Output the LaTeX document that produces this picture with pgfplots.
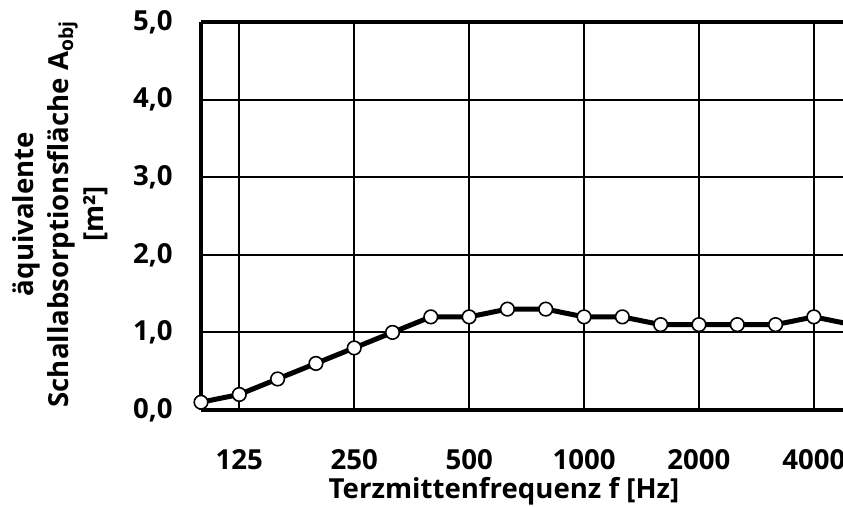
\documentclass[border=0pt]{standalone}
\usepackage{fontspec}
\setmainfont{Open Sans}
\usepackage{pgfplots}
\pgfplotsset{compat=1.18}
\begin{document}
\begin{tikzpicture}[x=0.5pt,y=0.5pt]
\useasboundingbox (-201,-97) rectangle (642,410);
\begin{axis}[
  at={(0,0)}, anchor=south west,
  scale only axis, width=321pt, height=194pt,
  xmin=0, xmax=16.76, ymin=0, ymax=5,
  axis line style={line width=2.2pt},
  axis x line*=bottom, axis y line*=left,
  xtick={1,4,7,10,13,16},
  xticklabels={125,250,500,1000,2000,4000},
  ytick={0,1,2,3,4,5},
  major tick length=0pt,
  grid=major,
  major grid style={black, line width=1pt},
  font=\bfseries\fontsize{13.8}{16}\selectfont,
  /pgf/number format/.cd, fixed, fixed zerofill, precision=1, use comma, assume math mode=true,
  /pgfplots/.cd,
  yticklabel style={anchor=east, inner sep=0pt, xshift=-14pt},
  xticklabel style={anchor=north, inner sep=0pt, yshift=-19.5pt},
  clip mode=individual,
]
\addplot[black, line width=2.5pt, mark=*, mark size=3.4pt,
  mark options={fill=white, draw=black, line width=0.8pt}]
  coordinates {
  (0,0.1) (1,0.2) (2,0.4) (3,0.6) (4,0.8) (5,1.0) (6,1.2) (7,1.2) (8,1.3)
  (9,1.3) (10,1.2) (11,1.2) (12,1.1) (13,1.1) (14,1.1) (15,1.1) (16,1.2) (17,1.1)
  };
\end{axis}
\draw[line width=2.2pt] (0,388) -- (642,388);
\node[anchor=north, inner sep=0pt, font=\bfseries\fontsize{13.8}{16}\selectfont]
  at (303,-67) {Terzmittenfrequenz f [Hz]};
\node[rotate=90, align=center, inner sep=0pt, font=\bfseries\fontsize{13.8}{17.5}\selectfont]
  at (-141,196) {äquivalente\\Schallabsorptionsfläche A\textsubscript{obj}\\{[m²]}};
\end{tikzpicture}
\end{document}
